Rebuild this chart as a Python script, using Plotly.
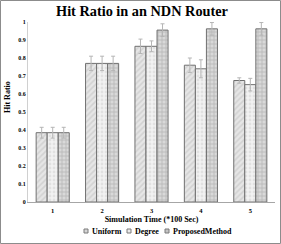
import plotly.graph_objects as go

categories = ["1", "2", "3", "4", "5"]
uniform = [0.385, 0.77, 0.865, 0.76, 0.675]
degree = [0.385, 0.77, 0.865, 0.74, 0.652]
proposed = [0.385, 0.77, 0.955, 0.962, 0.962]
uniform_err = [0.03, 0.04, 0.04, 0.04, 0.015]
degree_err = [0.03, 0.04, 0.03, 0.05, 0.035]
proposed_err = [0.03, 0.04, 0.035, 0.035, 0.035]
y_ticks = [0, 0.1, 0.2, 0.3, 0.4, 0.5, 0.6, 0.7, 0.8, 0.9, 1]
series_names = ["Uniform", "Degree", "ProposedMethod"]

W, H = 281, 244
L, R, T, B = 28, 6, 22, 42
FONT = "Liberation Serif"
pw = W - L - R
ph = H - T - B


def px(xp):
    return (xp - L) / pw


def py(yp):
    return (H - B - yp) / ph


styles = [
    (uniform, uniform_err, "#e6e6e6", "/", "#bdbdbd"),
    (degree, degree_err, "#f2f2f2", ".", "#d0d0d0"),
    (proposed, proposed_err, "#d9d9d9", "+", "#9a9a9a"),
]

fig = go.Figure()
for name, (vals, errs, bg, shape, fg) in zip(series_names, styles):
    fig.add_trace(go.Bar(
        x=categories, y=vals, name=name, showlegend=False,
        marker=dict(color=bg, line=dict(color="#707070", width=1),
                    pattern=dict(shape=shape, fgcolor=fg, bgcolor=bg, size=4, solidity=0.4)),
        error_y=dict(type="data", array=errs, visible=True, color="#b5b5b5", thickness=1, width=2),
        cliponaxis=False,
    ))

# outer border
fig.add_shape(type="rect", xref="paper", yref="paper",
              x0=px(0.5), x1=px(W - 0.5), y0=py(H - 0.5), y1=py(0.5),
              line=dict(color="#8c8c8c", width=1), fillcolor="rgba(0,0,0,0)")

# legend (compact, like the reference)
legend_marker_x = [86, 129, 167]
legend_fill = ["#d6d6d6", "#ececec", "#c4c4c4"]
ly = 231
for name, mx, fc in zip(series_names, legend_marker_x, legend_fill):
    fig.add_shape(type="rect", xref="paper", yref="paper",
                  x0=px(mx - 2), x1=px(mx + 2), y0=py(ly + 2), y1=py(ly - 2),
                  line=dict(color="#7a7a7a", width=1), fillcolor=fc)
    fig.add_annotation(text=f"<b>{name}</b>", xref="paper", yref="paper",
                       x=px(mx + 4), y=py(ly), xanchor="left", yanchor="middle",
                       showarrow=False, font=dict(family=FONT, size=8, color="#000"))

# y-axis title
fig.add_annotation(text="<b>Hit Ratio</b>", xref="paper", yref="paper",
                   x=px(7), y=py(97), xanchor="center", yanchor="middle", textangle=-90,
                   showarrow=False, font=dict(family=FONT, size=8, color="#000"))

fig.update_layout(
    width=W, height=H,
    margin=dict(l=L, r=R, t=T, b=B, autoexpand=False),
    paper_bgcolor="white", plot_bgcolor="white",
    barmode="group", bargap=0.33, bargroupgap=0,
    title=dict(text="<b>Hit Ratio in an NDN Router</b>", x=142 / W, xref="container", xanchor="center",
               y=1 - 11 / H, yanchor="middle",
               font=dict(family=FONT, size=14.3, color="#000")),
    font=dict(family=FONT, color="#000"),
    showlegend=False,
    xaxis=dict(showline=True, linecolor="#a6a6a6", linewidth=1, ticks="", automargin=False,
               tickvals=categories, ticktext=[f"<b>{c}</b>" for c in categories],
               tickfont=dict(family=FONT, size=6.5, color="#000"), ticklabelstandoff=2,
               title=dict(text="<b>Simulation Time (*100 Sec)</b>", standoff=3,
                          font=dict(family=FONT, size=8, color="#000"))),
    yaxis=dict(range=[0, 1], tickvals=y_ticks, ticktext=[f"<b>{v:g}</b>" for v in y_ticks],
               showgrid=False, zeroline=False, showline=True, linecolor="#d0d0d0", linewidth=1,
               ticks="", automargin=False, tickfont=dict(family=FONT, size=6, color="#000")),
)

fig.write_html("out.html", config={"displayModeBar": False},
               post_script="document.body.style.margin='0';")
